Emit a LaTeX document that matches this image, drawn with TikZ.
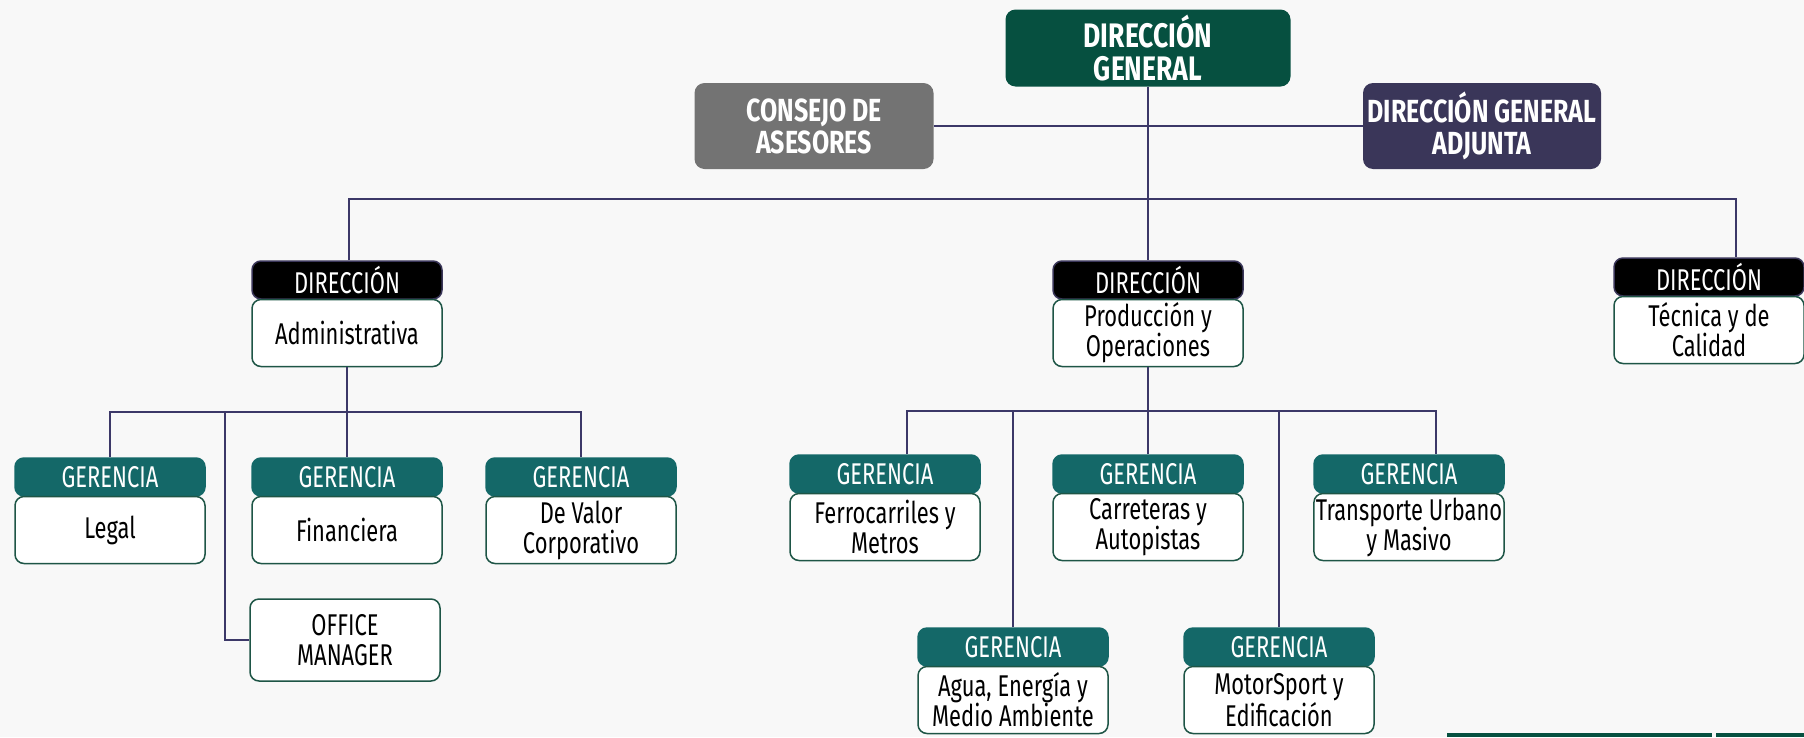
\documentclass[tikz,border=0pt]{standalone}
\usepackage{fontspec}
\setmainfont{Fira Sans}[FakeStretch=0.73,BoldFeatures={FakeStretch=0.78}]
\usetikzlibrary{positioning}

\definecolor{verdeosc}{RGB}{6,80,64}
\definecolor{grisc}{RGB}{115,115,115}
\definecolor{moradoc}{RGB}{58,54,89}
\definecolor{tealc}{RGB}{20,104,104}
\definecolor{bordec}{RGB}{30,85,70}
\definecolor{lineac}{RGB}{60,56,104}
\definecolor{fondoc}{RGB}{248,248,248}

\begin{document}
\begin{tikzpicture}[x=1pt,y=-1pt,
	topbox/.style = {shape=rectangle, rounded corners=10pt, text=white, align=center,
		font=\bfseries\fontsize{32}{32}\selectfont, minimum height=77pt},
	cabdir/.style = {shape=rectangle, rounded corners=9pt, fill=black, draw=moradoc,
		line width=1.5pt, text=white, minimum width=190pt, minimum height=38pt,
		font=\fontsize{30}{30}\selectfont},
	cabger/.style = {cabdir, fill=tealc, draw=tealc},
	cuerpo/.style = {shape=rectangle, rounded corners=9pt, fill=white, draw=bordec,
		line width=1.5pt, minimum width=190pt, minimum height=67pt, align=center,
		inner sep=2pt, font=\fontsize{30}{30}\selectfont},
	enlace/.style = {draw=lineac, line width=2.5pt}]
	\fill[fondoc] (0,0) rectangle (1804,737);
	\useasboundingbox (0,0) rectangle (1804,737);

	% direccion general
	\node[topbox, fill=verdeosc, minimum width=285pt, font=\bfseries\fontsize{34}{33}\selectfont] (dg) at (1148,48) {DIRECCIÓN\\GENERAL};
	\node[topbox, fill=grisc, minimum width=239pt, minimum height=86pt] (consejo) at (814,126) {CONSEJO DE\\ASESORES};
	\node[topbox, fill=moradoc, minimum width=238pt, minimum height=86pt] (dga) at (1482,126) {DIRECCIÓN GENERAL\\ADJUNTA};

	% direcciones
	\node[cabdir] (dadm) at (347,280) {DIRECCIÓN};
	\node[cuerpo, below=-1pt of dadm] (adm) {Administrativa};
	\node[cabdir] (dprod) at (1148,280) {DIRECCIÓN};
	\node[cuerpo, below=-1pt of dprod] (prod) {Producción y\\Operaciones};
	\node[cabdir] (dtec) at (1709,277) {DIRECCIÓN};
	\node[cuerpo, below=-1pt of dtec] (tec) {Técnica y de\\Calidad};

	% gerencias administrativa
	\node[cabger] (glegal) at (110,477) {GERENCIA};
	\node[cuerpo, below=-1pt of glegal] (legal) {Legal};
	\node[cabger] (gfin) at (347,477) {GERENCIA};
	\node[cuerpo, below=-1pt of gfin] (fin) {Financiera};
	\node[cabger] (gvalor) at (581,477) {GERENCIA};
	\node[cuerpo, below=-1pt of gvalor] (valor) {De Valor\\Corporativo};
	\node[cuerpo, minimum height=82pt] (office) at (345,640) {OFFICE\\MANAGER};

	% gerencias produccion
	\node[cabger] (gferro) at (885,474) {GERENCIA};
	\node[cuerpo, below=-1pt of gferro] (ferro) {Ferrocarriles y\\Metros};
	\node[cabger] (gcarr) at (1148,474) {GERENCIA};
	\node[cuerpo, below=-1pt of gcarr] (carr) {Carreteras y\\Autopistas};
	\node[cabger] (gtrans) at (1409,474) {GERENCIA};
	\node[cuerpo, below=-1pt of gtrans] (trans) {Transporte Urbano\\y Masivo};
	\node[cabger] (gagua) at (1013,647) {GERENCIA};
	\node[cuerpo, below=-1pt of gagua] (agua) {Agua, Energía y\\Medio Ambiente};
	\node[cabger] (gmotor) at (1279,647) {GERENCIA};
	\node[cuerpo, below=-1pt of gmotor] (motor) {MotorSport y\\Edificación};

	% lineas
	\coordinate (busizq) at (349,199);
	\coordinate (busder) at (1736,199);
	\coordinate (busadm) at (347,412);
	\coordinate (ramaof) at (225,412);
	\coordinate (busprod) at (1148,411);
	\draw[enlace] (dg.south) -- (dprod.north);
	\draw[enlace] (consejo.east) -- (dga.west);
	\draw[enlace] (dadm.north -| busizq) -- (busizq) -- (busder) -- (busder |- dtec.north);
	\draw[enlace] (adm.south) -- (gfin.north);
	\draw[enlace] (glegal.north) |- (busadm) -| (gvalor.north);
	\draw[enlace] (ramaof) |- (office.west);
	\draw[enlace] (prod.south) -- (gcarr.north);
	\draw[enlace] ([xshift=22pt]gferro.north) |- (busprod) -| ([xshift=27pt]gtrans.north);
	\draw[enlace] (gagua.north) -- (gagua.north |- busprod);
	\draw[enlace] (gmotor.north) -- (gmotor.north |- busprod);

	% barras inferiores
	\fill[verdeosc] (1447,733) rectangle (1712,737);
	\fill[verdeosc] (1716,733) rectangle (1804,737);
\end{tikzpicture}
\end{document}
